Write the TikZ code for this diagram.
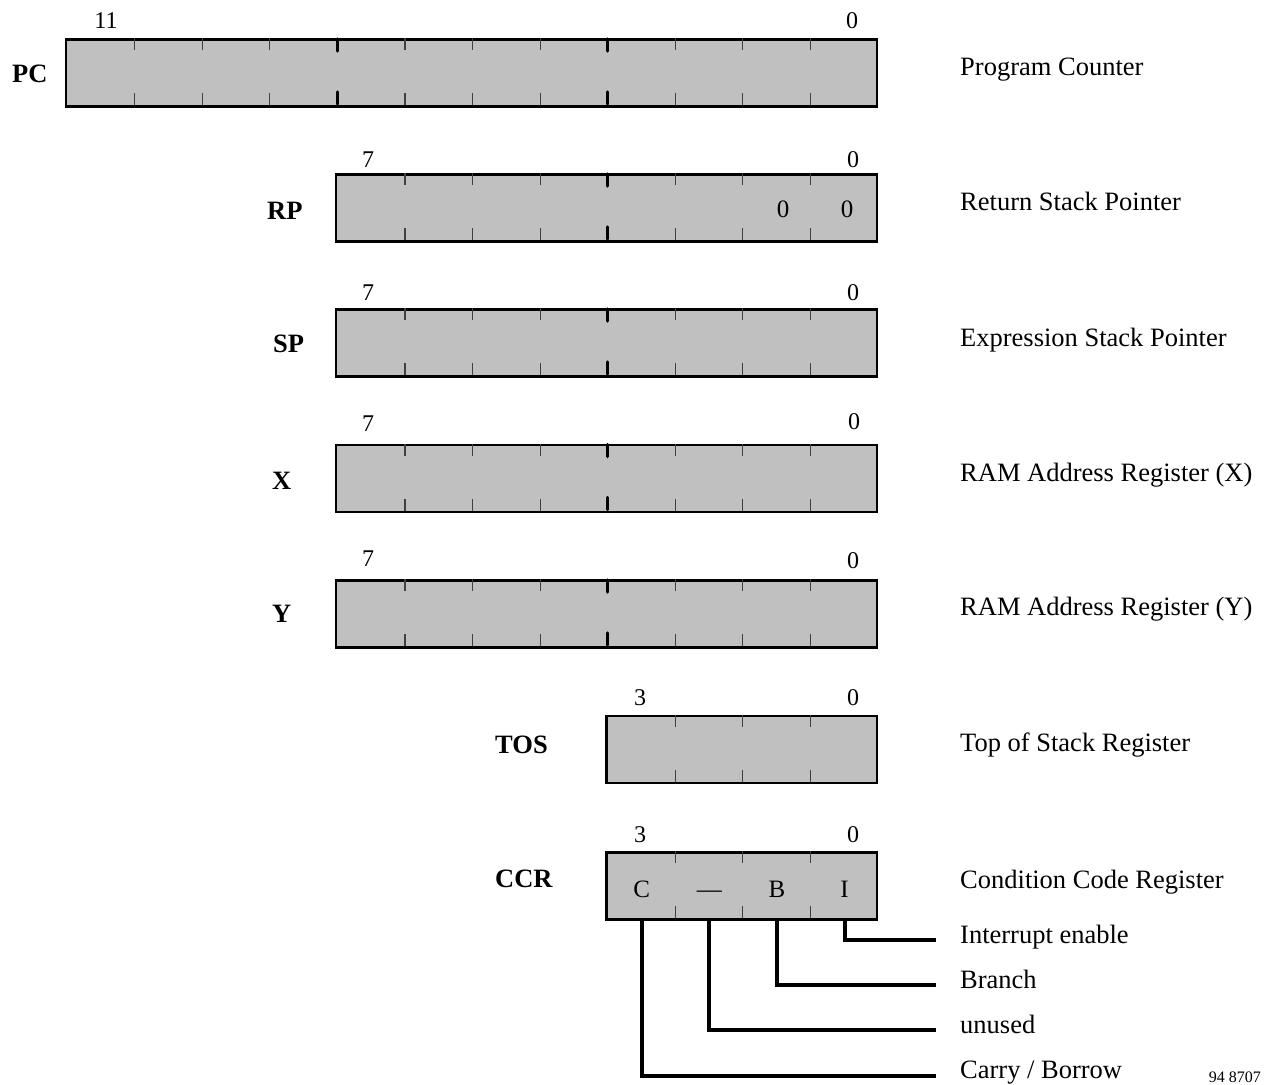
\documentclass[tikz,border=0pt]{standalone}
\usepackage{fontspec}
\setmainfont{Liberation Serif}
\usepackage{tikz}
\usetikzlibrary{positioning,calc}
\definecolor{regfill}{RGB}{192,192,192}

\begin{document}
\begin{tikzpicture}[x=1pt,y=-1pt,
    reg/.style={draw,line width=2.5pt,fill=regfill,inner sep=0pt,minimum height=67pt,anchor=north east},
    bittick/.style={line width=1.2pt,black!75},
    nibtick/.style={line width=3.5pt,line cap=round},
    wire/.style={line width=4pt},
    bitno/.style={font=\fontsize{24}{28}\selectfont,anchor=base,inner sep=0pt},
    bitval/.style={font=\fontsize{25}{28}\selectfont,anchor=base,inner sep=0pt},
    regname/.style={font=\fontsize{26.5}{30}\selectfont\bfseries,anchor=base west,inner sep=0pt},
    desc/.style={font=\fontsize{26.5}{30}\selectfont,anchor=base west,inner sep=0pt}]

\useasboundingbox (0,0) rectangle (1266,1084);

% Registers
\foreach \r/\n/\t in {pc/12/38, rp/8/173, sp/8/308, rx/8/443.5, ry/8/579, tos/4/714.5, ccr/4/851} {
    \node[reg,minimum width=\n*67.58pt] (\r) at (878,\t) {};
    \pgfmathtruncatemacro\last{\n-1}
    \foreach \i in {1,...,\last} {
        \pgfmathtruncatemacro\m{mod(\i,4)}
        \ifnum\m=0
            \draw[nibtick] (878-\i*67.58,\t+1) -- (878-\i*67.58,\t+13);
            \draw[nibtick] (878-\i*67.58,\t+66) -- (878-\i*67.58,\t+54);
        \else
            \draw[bittick] (878-\i*67.58,\t) -- (878-\i*67.58,\t+12);
            \draw[bittick] (878-\i*67.58,\t+67) -- (878-\i*67.58,\t+55);
        \fi
    }
}

% Bit numbers
\node[bitno] (pc-hi) at (106,28) {11};
\node[bitno] (pc-lo) at (852,28) {0};
\node[bitno] (rp-hi) at (368,167) {7};
\node[bitno] (rp-lo) at (853,167) {0};
\node[bitno] (sp-hi) at (368,300) {7};
\node[bitno] (sp-lo) at (853,300) {0};
\node[bitno] (rx-hi) at (368,431) {7};
\node[bitno] (rx-lo) at (854,429) {0};
\node[bitno] (ry-hi) at (368,566) {7};
\node[bitno] (ry-lo) at (853,568) {0};
\node[bitno] (tos-hi) at (640,705) {3};
\node[bitno] (tos-lo) at (853,705) {0};
\node[bitno] (ccr-hi) at (640,842) {3};
\node[bitno] (ccr-lo) at (853,842) {0};

% Register names
\node[regname] (pc-name) at (12,82) {PC};
\node[regname] (rp-name) at (267,219) {RP};
\node[regname] (sp-name) at (273,352) {SP};
\node[regname] (rx-name) at (272,489) {X};
\node[regname] (ry-name) at (272,622) {Y};
\node[regname] (tos-name) at (495,753) {TOS};
\node[regname] (ccr-name) at (495,887) {CCR};

% Contents
\node[bitval] (rp-b1) at (783,217) {0};
\node[bitval] (rp-b0) at (847,217) {0};
\node[bitval] (ccr-c) at (641.8,897) {C};
\node[bitval] (ccr-u) at (709.4,897) {\textemdash};
\node[bitval] (ccr-b) at (777,897) {B};
\node[bitval] (ccr-i) at (844.6,897) {I};

% Descriptions
\node[desc] (pc-desc) at (960,75) {Program Counter};
\node[desc] (rp-desc) at (960,210) {Return Stack Pointer};
\node[desc] (sp-desc) at (960,346) {Expression Stack Pointer};
\node[desc] (rx-desc) at (960,481) {RAM Address Register (X)};
\node[desc] (ry-desc) at (960,615) {RAM Address Register (Y)};
\node[desc] (tos-desc) at (960,751) {Top of Stack Register};
\node[desc] (ccr-desc) at (960,888) {Condition Code Register};

% Flags
\node[desc] (ie) at (960,943) {Interrupt enable};
\node[desc] (br) at (960,988) {Branch};
\node[desc] (un) at (960,1033) {unused};
\node[desc] (cb) at (960,1078) {Carry / Borrow};

\draw[wire] (ccr-i |- ccr.south) |- ([xshift=-24pt,yshift=3pt]ie.base west);
\draw[wire] (ccr-b |- ccr.south) |- ([xshift=-24pt,yshift=3pt]br.base west);
\draw[wire] (ccr-u |- ccr.south) |- ([xshift=-24pt,yshift=3pt]un.base west);
\draw[wire] (ccr-c |- ccr.south) |- ([xshift=-24pt,yshift=2pt]cb.base west);

\node[font=\fontsize{16}{18}\selectfont,anchor=base east,inner sep=0pt] (fig-id) at (1261,1082) {94 8707};

\end{tikzpicture}
\end{document}
